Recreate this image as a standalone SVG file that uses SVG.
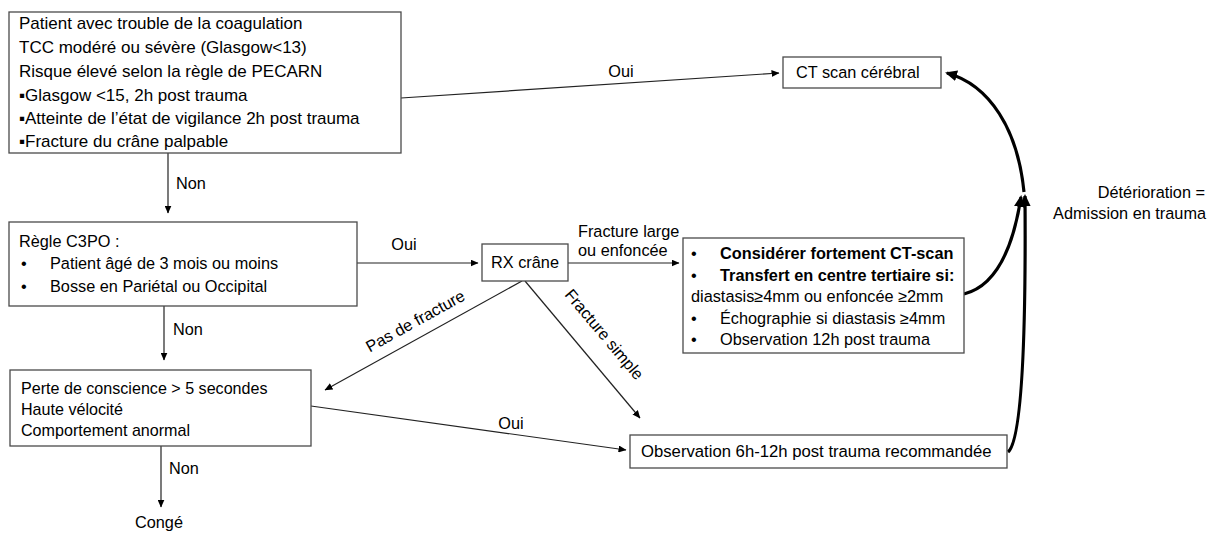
<svg xmlns="http://www.w3.org/2000/svg" width="1208" height="533" viewBox="0 0 1208 533">
<style>
  text { font-family: "Liberation Sans", Arial, sans-serif; fill: #000; }
  .box { fill: #fff; stroke: #4a4a4a; stroke-width: 1.3; }
  .t17 { font-size: 17px; }
  .t16 { font-size: 16.3px; }
  .t15 { font-size: 16.1px; }
  .t167 { font-size: 16.7px; }
  .b { font-weight: bold; }
  .mid { text-anchor: middle; }
  .end { text-anchor: end; }
  .con { fill: none; stroke: #222; stroke-width: 1.2; marker-end: url(#arr); }
  .thick { fill: none; stroke: #000; stroke-width: 3.2; marker-end: url(#arrT); }
</style>
<defs>
  <marker id="arr" markerUnits="userSpaceOnUse" markerWidth="8" markerHeight="7" refX="7.5" refY="3.5" orient="auto">
    <path d="M0,0 L8,3.5 L0,7 z" fill="#000"/>
  </marker>
  <marker id="arrT" markerUnits="userSpaceOnUse" markerWidth="12" markerHeight="11" refX="10" refY="5.5" orient="auto">
    <path d="M0,0 L12,5.5 L0,11 z" fill="#000"/>
  </marker>
</defs>
<rect width="1208" height="533" fill="#fff"/>

<g id="connectors">
  <path class="con" d="M401,98 L779,73"/>
  <path class="con" d="M168,153 L168,213"/>
  <path class="con" d="M357,263 L478,263"/>
  <path class="con" d="M568,263 L679,263"/>
  <path class="con" d="M522,281 L325,390"/>
  <path class="con" d="M525,281 L640,418"/>
  <path class="con" d="M164,306 L164,360"/>
  <path class="con" d="M311,406 L626,450"/>
  <path class="con" d="M161,446 L161,507"/>
  <path class="thick" d="M1008,452 C1022,440 1026,330 1025,196"/>
  <path class="thick" d="M964,294 C992,287 1012,255 1021,197"/>
  <path class="thick" d="M1024,192 C1018,130 990,85 947,73"/>
  <text class="t16 mid" x="621" y="77">Oui</text>
  <text class="t16" x="176" y="189">Non</text>
  <text class="t16 mid" x="404" y="250">Oui</text>
  <text class="t16" x="578" y="237">Fracture large</text>
  <text class="t16" x="578" y="256">ou enfoncée</text>
  <text class="t16 mid" x="418" y="326" transform="rotate(-29 418 326)">Pas de fracture</text>
  <text class="t16 mid" x="600" y="338" transform="rotate(50 600 338)">Fracture simple</text>
  <text class="t16" x="173" y="335">Non</text>
  <text class="t16 mid" x="511" y="429">Oui</text>
  <text class="t16" x="169" y="474">Non</text>
  <text class="t16 end" x="1205" y="198">Détérioration =</text>
  <text class="t16 end" x="1206" y="219">Admission en trauma</text>
</g>

<g id="n-criteres">
  <rect class="box" x="9" y="12" width="392" height="141"/>
  <text class="t17" x="19" y="29">Patient avec trouble de la coagulation</text>
  <text class="t17" x="19" y="53">TCC modéré ou sévère (Glasgow&lt;13)</text>
  <text class="t17" x="19" y="77">Risque élevé selon la règle de PECARN</text>
  <text class="t17" x="19" y="101">▪Glasgow &lt;15, 2h post trauma</text>
  <text class="t17" x="19" y="124">▪Atteinte de l’état de vigilance 2h post trauma</text>
  <text class="t17" x="19" y="147">▪Fracture du crâne palpable</text>
</g>

<g id="n-ct">
  <rect class="box" x="783" y="57" width="158" height="31"/>
  <text class="t16" x="796" y="78">CT scan cérébral</text>
</g>

<g id="n-c3po">
  <rect class="box" x="9" y="222" width="348" height="84"/>
  <text class="t16" x="19" y="247">Règle C3PO :</text>
  <text class="t16" x="21" y="269">•</text>
  <text class="t16" x="50" y="269">Patient âgé de 3 mois ou moins</text>
  <text class="t16" x="21" y="292">•</text>
  <text class="t16" x="50" y="292">Bosse en Pariétal ou Occipital</text>
</g>

<g id="n-rx">
  <rect class="box" x="482" y="244" width="86" height="37"/>
  <text class="t16 mid" x="525" y="268">RX crâne</text>
</g>

<g id="n-considerer">
  <rect class="box" x="683" y="238" width="281" height="115"/>
  <text class="t16" x="691" y="259">•</text>
  <text class="t16 b" x="720" y="259">Considérer fortement CT-scan</text>
  <text class="t16" x="691" y="281">•</text>
  <text class="t16 b" x="720" y="281">Transfert en centre tertiaire si:</text>
  <text class="t16" x="691" y="302">diastasis≥4mm ou enfoncée ≥2mm</text>
  <text class="t16" x="691" y="324">•</text>
  <text class="t16" x="720" y="324">Échographie si diastasis ≥4mm</text>
  <text class="t16" x="691" y="345">•</text>
  <text class="t16" x="720" y="345">Observation 12h post trauma</text>
</g>

<g id="n-perte">
  <rect class="box" x="10" y="370" width="301" height="76"/>
  <text class="t15" x="21" y="394">Perte de conscience &gt; 5 secondes</text>
  <text class="t15" x="21" y="415">Haute vélocité</text>
  <text class="t15" x="21" y="436">Comportement anormal</text>
</g>

<g id="n-observation">
  <rect class="box" x="630" y="435" width="377" height="33"/>
  <text class="t167" x="641" y="457">Observation 6h-12h post trauma recommandée</text>
</g>

<g id="n-conge">
  <text class="t16 mid" x="159" y="528">Congé</text>
</g>
</svg>
